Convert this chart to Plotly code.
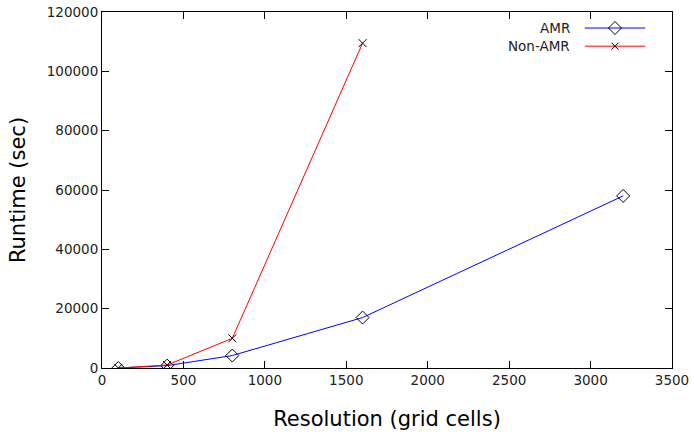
import plotly.graph_objects as go

resolution_amr = [100, 400, 800, 1600, 3200]
runtime_amr = [0, 800, 4200, 17000, 58000]
resolution_non = [100, 400, 800, 1600]
runtime_non = [0, 1000, 10000, 109500]

x_ticks = [0, 500, 1000, 1500, 2000, 2500, 3000, 3500]
y_ticks = [0, 20000, 40000, 60000, 80000, 100000, 120000]

FONT = "DejaVu Sans"

fig = go.Figure()
fig.add_trace(go.Scatter(x=resolution_amr, y=runtime_amr, mode="lines+markers", name="AMR",
                         line=dict(color="#0000ff", width=1),
                         marker=dict(symbol="diamond-open", size=10, color="black", line=dict(width=1))))
fig.add_trace(go.Scatter(x=resolution_non, y=runtime_non, mode="lines+markers", name="Non-AMR",
                         line=dict(color="#ff0000", width=1),
                         marker=dict(symbol="x-thin-open", size=8, color="black", line=dict(width=1, color="black"))))

# custom legend (line sample right of the text, as in gnuplot)
leg = [("AMR", "#0000ff", "diamond-open", 10, 0.955), ("Non-AMR", "#ff0000", "x-thin-open", 7, 0.904)]
for name, col, sym, sz, yy in leg:
    fig.add_trace(go.Scatter(x=[0.847, 0.953], y=[yy, yy], xaxis="x2", yaxis="y2", mode="lines",
                             line=dict(color=col, width=1), showlegend=False, hoverinfo="skip"))
    fig.add_trace(go.Scatter(x=[0.9], y=[yy], xaxis="x2", yaxis="y2", mode="markers",
                             marker=dict(symbol=sym, size=sz, color="black", line=dict(width=1, color="black")),
                             showlegend=False, hoverinfo="skip"))
    fig.add_annotation(x=0.825, y=yy, xref="x2", yref="y2", text=name, showarrow=False,
                       xanchor="right", yanchor="middle", font=dict(family=FONT, size=13.5, color="#222"))

axis_common = dict(showgrid=False, zeroline=False, showline=True, linecolor="black", linewidth=1,
                   mirror="allticks", ticks="inside", ticklen=7, tickcolor="black", automargin=False,
                   ticklabeloverflow="allow",
                   tickfont=dict(family=FONT, size=13.5, color="#222"))
fig.update_layout(
    width=692, height=433,
    margin=dict(l=102, r=20, t=12, b=65),
    plot_bgcolor="white", paper_bgcolor="white",
    showlegend=False,
    xaxis=dict(range=[0, 3500], tickvals=x_ticks, ticktext=[str(v) for v in x_ticks],
               title=dict(text="Resolution (grid cells)", font=dict(family=FONT, size=21, color="black"), standoff=24),
               **axis_common),
    yaxis=dict(range=[0, 120000], tickvals=y_ticks, ticktext=[str(v) for v in y_ticks],
               title=dict(text="Runtime (sec)", font=dict(family=FONT, size=21, color="black"), standoff=15),
               **axis_common),
    xaxis2=dict(range=[0, 1], overlaying="x", visible=False, fixedrange=True),
    yaxis2=dict(range=[0, 1], overlaying="y", visible=False, fixedrange=True),
)

# remove the browser's default 8px body margin so the figure fills the window exactly
fig.write_html("out.html", config={"displayModeBar": False},
               post_script="document.body.style.margin='0';document.body.style.overflow='hidden';")
